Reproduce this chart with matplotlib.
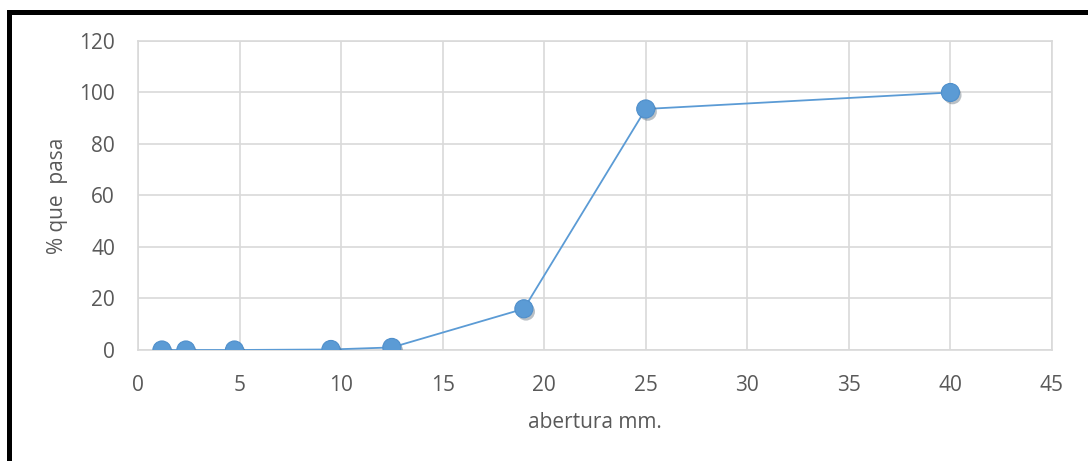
import matplotlib.pyplot as plt
import matplotlib.patheffects as pe
from matplotlib.lines import Line2D

# tamices (mm) y porcentaje que pasa
abertura = [1.18, 2.36, 4.75, 9.5, 12.5, 19, 25, 40]
pasa = [0, 0, 0, 0.2, 1, 16, 93.6, 100]

plt.rcParams['font.family'] = ['Open Sans', 'DejaVu Sans']

fig = plt.figure(figsize=(10.88, 4.61), dpi=100)
ax = fig.add_axes([0.1268, 0.2408, 0.8401, 0.6703])

azul = '#5B9BD5'
gris = '#595959'
# linea
ax.plot(abertura, pasa, color=azul, lw=1.3, zorder=3)
# marcadores con sombra
ax.plot(abertura, pasa, ls='none', marker='o', ms=13, mfc=azul, mec='#4F8FCB',
        mew=0.8, zorder=4,
        path_effects=[pe.SimplePatchShadow(offset=(1.5, -2), alpha=0.3), pe.Normal()])

ax.set_xlim(0, 45)
ax.set_ylim(0, 120)
ax.set_xticks(range(0, 46, 5))
ax.set_yticks(range(0, 121, 20))
ax.grid(True, color='#D9D9D9', lw=1.2)
ax.set_axisbelow(True)
for s in ax.spines.values():
    s.set_color('#D9D9D9')
    s.set_linewidth(1.2)
ax.tick_params(length=0, colors=gris, labelsize=15)
ax.tick_params(axis='x', pad=18)
ax.tick_params(axis='y', pad=16.5)

ax.set_xlabel('abertura mm.', color=gris, fontsize=15)
ax.set_ylabel('% que  pasa', color=gris, fontsize=15)
ax.xaxis.set_label_coords(0.5, -0.20)
ax.yaxis.set_label_coords(-0.0766, 0.5)

# marco negro (solo se ve arriba e izquierda)
fig.add_artist(Line2D([0.0087, 1.0], [0.975, 0.975], color='black', lw=3.6, transform=fig.transFigure))
fig.add_artist(Line2D([0.0087, 0.0087], [0.0, 0.975], color='black', lw=3.6, transform=fig.transFigure))

fig.savefig('out.png', dpi=100)
